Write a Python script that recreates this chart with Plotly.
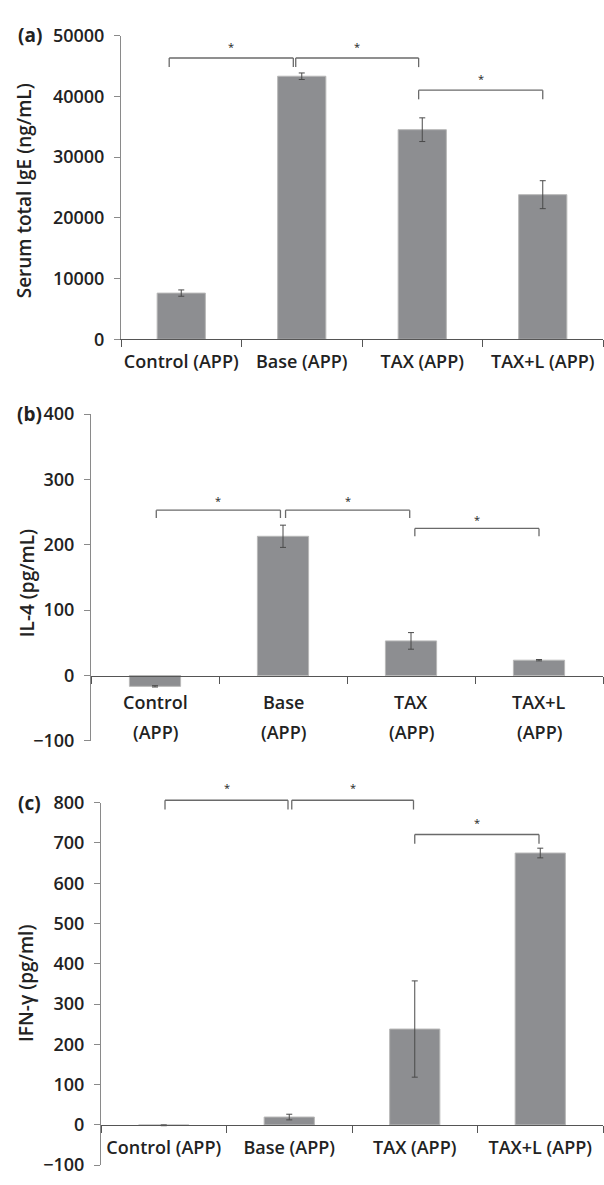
import plotly.graph_objects as go

# ---------------- data ----------------
categories = ["Control (APP)", "Base (APP)", "TAX (APP)", "TAX+L (APP)"]
cat_line1 = ["Control", "Base", "TAX", "TAX+L"]
cat_line2 = ["(APP)", "(APP)", "(APP)", "(APP)"]

ige_mean = [7600, 43300, 34500, 23800]
ige_err = [520, 540, 1950, 2300]
il4_mean = [-16.5, 213, 53, 23.5]
il4_err = [1, 17, 12.7, 1]
ifn_mean = [-1, 19.5, 238, 675]
ifn_err = [1, 7, 119.5, 12]

ige_ticks = [0, 10000, 20000, 30000, 40000, 50000]
il4_ticks = [-100, 0, 100, 200, 300, 400]
ifn_ticks = [-100, 0, 100, 200, 300, 400, 500, 600, 700, 800]

# significance brackets (start, end on category scale, height, leg)
ige_br_x0 = [-0.1, 0.95, 1.97]
ige_br_x1 = [0.93, 1.97, 3.0]
ige_br_y = [46300, 46300, 41000]
ige_br_leg = 1500
il4_br_x0 = [0.01, 1.02, 2.03]
il4_br_x1 = [0.98, 1.99, 3.0]
il4_br_y = [253, 253, 225]
il4_br_leg = 12
ifn_br_x0 = [0.01, 1.02, 2.0]
ifn_br_x1 = [0.99, 1.99, 2.99]
ifn_br_y = [806, 806, 721]
ifn_br_leg = 23

# ---------------- style ----------------
W, H = 604, 1185
FONT = "Open Sans"
TXT = "#222222"
BAR = "#8d8e91"
BAR_LINE = "#b8b8b8"
ERR = "#4a4a4a"
YLINE = "#8a8a8a"
XLINE = "#555555"
BRK = "#6a6a6a"
XR = [-0.5, 3.5]


def py(pix):
    return 1 - pix / H


def px(pix):
    return pix / W


panels = [
    dict(mean=ige_mean, err=ige_err, ticks=ige_ticks, rng=[0, 50000],
         xdom=[px(121), px(603)], ydom=[py(333), py(23)],
         bx0=ige_br_x0, bx1=ige_br_x1, by=ige_br_y, leg=ige_br_leg,
         title="Serum total IgE (ng/mL)", title_xy=(24, 182),
         label="(a)", label_xy=(30, 22), star_off=1900),
    dict(mean=il4_mean, err=il4_err, ticks=il4_ticks, rng=[-100, 400],
         xdom=[px(91), px(603)], ydom=[py(743), py(409.3)],
         bx0=il4_br_x0, bx1=il4_br_x1, by=il4_br_y, leg=il4_br_leg,
         title="IL-4 (pg/mL)", title_xy=(27, 582),
         label="(b)", label_xy=(30, 409), star_off=14),
    dict(mean=ifn_mean, err=ifn_err, ticks=ifn_ticks, rng=[-100, 800],
         xdom=[px(101), px(603)], ydom=[py(1176), py(806)],
         bx0=ifn_br_x0, bx1=ifn_br_x1, by=ifn_br_y, leg=ifn_br_leg,
         title="IFN-γ (pg/ml)", title_xy=(26, 991),
         label="(c)", label_xy=(30, 806), star_off=31),
]

fig = go.Figure()
shapes = []
annotations = []
layout = {}

for i, p in enumerate(panels):
    n = "" if i == 0 else str(i + 1)
    xa, ya = "x" + n, "y" + n
    rng = p["rng"]

    fig.add_trace(go.Bar(
        x=categories, y=p["mean"], xaxis=xa, yaxis=ya,
        marker=dict(color=BAR, line=dict(color=BAR_LINE, width=1)),
        error_y=dict(type="data", array=p["err"], color=ERR,
                     thickness=1, width=3),
        hoverinfo="skip",
    ))

    zero_pos = p["ydom"][0] + (0 - rng[0]) / (rng[1] - rng[0]) * (p["ydom"][1] - p["ydom"][0])
    xaxis = dict(
        domain=p["xdom"], range=XR, type="category",
        showline=True, linecolor=XLINE, linewidth=1,
        ticks="outside", tickson="boundaries", ticklen=7, tickcolor=XLINE,
        showgrid=False, zeroline=False, tickangle=0,
        tickfont=dict(family=FONT, size=18, color=TXT, weight=600),
        ticklabelstandoff=6,
        showticklabels=(i != 1), fixedrange=True,
    )
    if i == 0:
        xaxis["anchor"] = ya
    else:
        xaxis["anchor"] = "free"
        xaxis["position"] = zero_pos
    yaxis = dict(
        domain=p["ydom"], range=rng, anchor=xa,
        showline=True, linecolor=YLINE, linewidth=1,
        ticks="outside", ticklen=6, tickcolor=YLINE,
        tickvals=p["ticks"], tickformat="d",
        showgrid=False, zeroline=False, fixedrange=True,
        tickfont=dict(family=FONT, size=18, color=TXT, weight=600),
        ticklabelstandoff=6,
    )
    layout["xaxis" + n] = xaxis
    layout["yaxis" + n] = yaxis

    def fx(v):
        return (v - XR[0]) / (XR[1] - XR[0])

    def fy(v, rng=rng):
        return (v - rng[0]) / (rng[1] - rng[0])

    xd, yd = xa + " domain", ya + " domain"
    for x0, x1, yb in zip(p["bx0"], p["bx1"], p["by"]):
        segs = [(x0, yb - p["leg"], x0, yb), (x0, yb, x1, yb), (x1, yb, x1, yb - p["leg"])]
        for a, b, c, d in segs:
            shapes.append(dict(type="line", xref=xd, yref=yd,
                               x0=fx(a), y0=fy(b), x1=fx(c), y1=fy(d),
                               line=dict(color=BRK, width=1.3)))
        annotations.append(dict(xref=xd, yref=yd, x=fx((x0 + x1) / 2),
                                y=fy(yb + p["star_off"]), text="*",
                                showarrow=False, xanchor="center", yanchor="middle",
                                font=dict(family=FONT, size=11, color=TXT)))

    tx, ty = p["title_xy"]
    annotations.append(dict(xref="paper", yref="paper", x=px(tx), y=py(ty),
                            text=p["title"], textangle=-90, showarrow=False,
                            xanchor="center", yanchor="middle",
                            font=dict(family=FONT, size=19, color=TXT, weight=600)))
    lx, ly = p["label_xy"]
    annotations.append(dict(xref="paper", yref="paper", x=px(lx), y=py(ly),
                            text=p["label"], showarrow=False,
                            xanchor="center", yanchor="middle",
                            font=dict(family=FONT, size=19, color=TXT, weight=700)))

    if i == 1:
        for c, l1, l2 in zip(categories, cat_line1, cat_line2):
            annotations.append(dict(xref=xa, yref="paper", x=c, y=py(703),
                                    text=l1, showarrow=False, xanchor="center",
                                    yanchor="middle",
                                    font=dict(family=FONT, size=18, color=TXT, weight=600)))
            annotations.append(dict(xref=xa, yref="paper", x=c, y=py(734),
                                    text=l2, showarrow=False, xanchor="center",
                                    yanchor="middle",
                                    font=dict(family=FONT, size=18, color=TXT, weight=600)))

fig.update_layout(
    width=W, height=H,
    margin=dict(l=0, r=0, t=0, b=0),
    paper_bgcolor="white", plot_bgcolor="white",
    showlegend=False, bargap=0.6, hovermode=False,
    shapes=shapes, annotations=annotations,
    **layout,
)

fig.write_html(
    "out.html",
    config=dict(displayModeBar=False, staticPlot=True),
    post_script="document.body.style.margin='0';document.body.style.overflow='hidden';",
)
